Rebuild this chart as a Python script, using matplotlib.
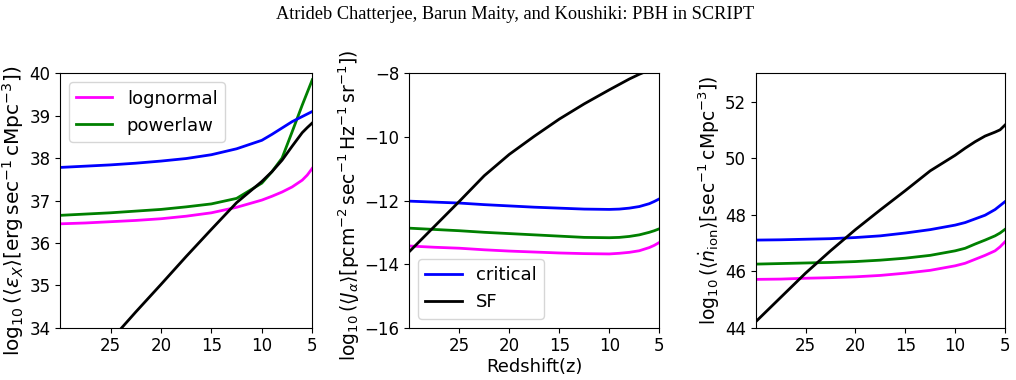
import matplotlib
matplotlib.use("Agg")
import matplotlib.pyplot as plt

z = [30, 27.5, 25, 22.5, 20, 17.5, 15, 12.5, 10, 9, 8, 7, 6, 5.5, 5]

# Panel 1: log10 <eps_X>
eps_critical = [37.78, 37.81, 37.84, 37.88, 37.93, 37.99, 38.08, 38.22, 38.42, 38.56, 38.71, 38.86, 38.98, 39.04, 39.10]
eps_powerlaw = [36.65, 36.68, 36.71, 36.75, 36.79, 36.85, 36.92, 37.05, 37.41, 37.68, 38.00, 38.62, 39.25, 39.55, 39.85]
eps_lognormal = [36.45, 36.47, 36.50, 36.53, 36.57, 36.63, 36.71, 36.84, 37.01, 37.10, 37.20, 37.32, 37.48, 37.60, 37.76]
eps_sf = [32.40, 33.05, 33.70, 34.37, 35.02, 35.68, 36.32, 36.95, 37.45, 37.68, 37.95, 38.28, 38.60, 38.72, 38.83]

# Panel 2: log10 <J_alpha>
ja_critical = [-12.02, -12.05, -12.08, -12.13, -12.17, -12.21, -12.24, -12.27, -12.28, -12.27, -12.24, -12.19, -12.10, -12.03, -11.95]
ja_powerlaw = [-12.87, -12.91, -12.95, -13.00, -13.04, -13.08, -13.12, -13.16, -13.17, -13.16, -13.13, -13.08, -13.00, -12.95, -12.89]
ja_lognormal = [-13.43, -13.47, -13.50, -13.55, -13.59, -13.62, -13.65, -13.67, -13.68, -13.66, -13.63, -13.58, -13.48, -13.41, -13.32]
ja_sf = [-13.61, -12.82, -12.03, -11.22, -10.55, -9.98, -9.44, -8.96, -8.52, -8.35, -8.18, -8.03, -7.90, -7.82, -7.75]

# Panel 3: log10 <ndot_ion>
nion_critical = [47.10, 47.11, 47.13, 47.15, 47.19, 47.25, 47.35, 47.47, 47.63, 47.72, 47.85, 47.98, 48.18, 48.32, 48.46]
nion_powerlaw = [46.25, 46.27, 46.29, 46.31, 46.34, 46.39, 46.46, 46.56, 46.72, 46.81, 46.96, 47.10, 47.25, 47.35, 47.48]
nion_lognormal = [45.71, 45.72, 45.75, 45.77, 45.80, 45.85, 45.93, 46.03, 46.19, 46.28, 46.42, 46.56, 46.72, 46.86, 47.04]
nion_sf = [44.21, 45.07, 45.93, 46.72, 47.47, 48.17, 48.85, 49.55, 50.10, 50.35, 50.58, 50.78, 50.92, 51.00, 51.17]

xticks = [25, 20, 15, 10, 5]

C_LOG = '#ff00ff'
C_POW = '#008000'
C_CRIT = '#0000ff'
C_SF = '#000000'
LW = 2.0

fig = plt.figure(figsize=(10.16, 3.8), dpi=100)
fig.text(0.507, 0.962, "Atrideb Chatterjee, Barun Maity, and Koushiki: PBH in SCRIPT",
         ha='center', va='center', fontsize=13.2, family='Liberation Serif')

ax1 = fig.add_axes([0.0591, 0.1376, 0.2483, 0.6695])
ax2 = fig.add_axes([0.4028, 0.1376, 0.2461, 0.6695])
ax3 = fig.add_axes([0.7438, 0.1376, 0.2454, 0.6695])

panels = [
    (ax1, eps_lognormal, eps_powerlaw, eps_critical, eps_sf),
    (ax2, ja_lognormal, ja_powerlaw, ja_critical, ja_sf),
    (ax3, nion_lognormal, nion_powerlaw, nion_critical, nion_sf),
]
for ax, lg, pw, cr, sf in panels:
    ax.plot(z, lg, color=C_LOG, lw=LW, label='lognormal')
    ax.plot(z, pw, color=C_POW, lw=LW, label='powerlaw')
    ax.plot(z, cr, color=C_CRIT, lw=LW, label='critical')
    ax.plot(z, sf, color=C_SF, lw=LW, label='SF')
    ax.set_xlim(30, 5)
    ax.set_xticks(xticks)
    ax.tick_params(labelsize=12)

ax1.set_ylim(34, 40)
ax1.set_yticks([34, 35, 36, 37, 38, 39, 40])
ax2.set_ylim(-16, -8)
ax2.set_yticks([-16, -14, -12, -10, -8])
ax3.set_ylim(44, 53)
ax3.set_yticks([44, 46, 48, 50, 52])

ax1.set_ylabel(r'$\log_{10}(\langle\varepsilon_X\rangle[\mathrm{erg\,sec^{-1}\,cMpc^{-3}}])$', fontsize=14.5, labelpad=2)
ax2.set_ylabel(r'$\log_{10}(\langle J_\alpha\rangle[\mathrm{pcm^{-2}\,sec^{-1}\,Hz^{-1}\,sr^{-1}}])$', fontsize=13.5, labelpad=2)
ax3.set_ylabel(r'$\log_{10}(\langle \dot{n}_{\mathrm{ion}}\rangle[\mathrm{sec^{-1}\,cMpc^{-3}}])$', fontsize=13.5, labelpad=2)
ax1.yaxis.label.set_y(0.46)
ax2.yaxis.label.set_y(0.48)
ax3.yaxis.label.set_y(0.50)
ax2.set_xlabel('Redshift(z)', fontsize=13, labelpad=2)

h1, l1 = ax1.get_legend_handles_labels()
ax1.legend(h1[:2], l1[:2], loc='upper left', fontsize=13)
h2, l2 = ax2.get_legend_handles_labels()
ax2.legend(h2[2:], l2[2:], loc='lower left', fontsize=13)

fig.savefig('out.png', dpi=100)
